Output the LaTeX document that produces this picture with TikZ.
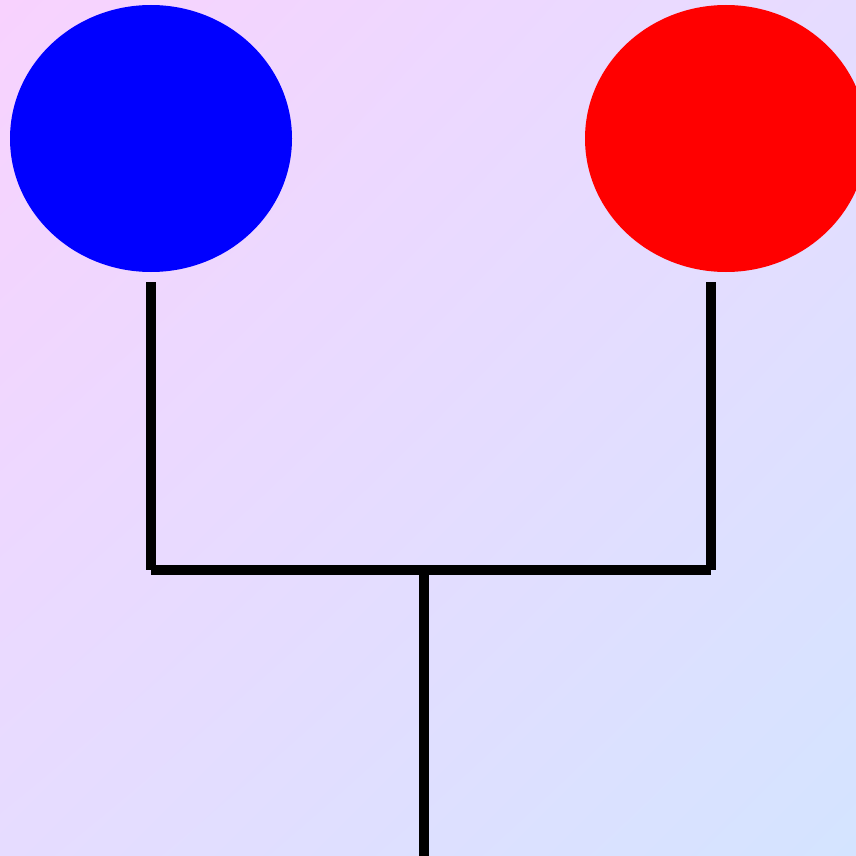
\documentclass[tikz,border=0pt]{standalone}
\usetikzlibrary{shapes.geometric,shadings}
\definecolor{bgtl}{RGB}{248,210,254}
\definecolor{bgmid}{RGB}{230,220,255}
\definecolor{bgbr}{RGB}{212,228,255}
\begin{document}
\begin{tikzpicture}[x=1pt,y=-1pt,
  wire/.style={line width=10pt, line cap=butt, draw=black},
  ball/.style={ellipse, minimum width=282pt, minimum height=267pt, inner sep=0pt, draw=none}]
\useasboundingbox (0,0) rectangle (856,856);
\clip (0,0) rectangle (856,856);
\shade[upper left=bgtl, upper right=bgmid, lower left=bgmid, lower right=bgbr] (0,0) rectangle (856,856);
\node[ball, fill=blue] (blueball) at (151,138.5) {};
\node[ball, fill=red] (redball) at (726,138.5) {};
\coordinate (bl) at (151,282);
\coordinate (bj) at (151,570);
\coordinate (rt) at (711,282);
\coordinate (rj) at (711,570);
\coordinate (mj) at (424,570);
\coordinate (bot) at (424,856);
\draw[wire] (bl) -- (bj);
\draw[wire] (rt) -- (rj);
\draw[wire] (bj) -- (rj);
\draw[wire] (mj) -- (bot);
\end{tikzpicture}
\end{document}
